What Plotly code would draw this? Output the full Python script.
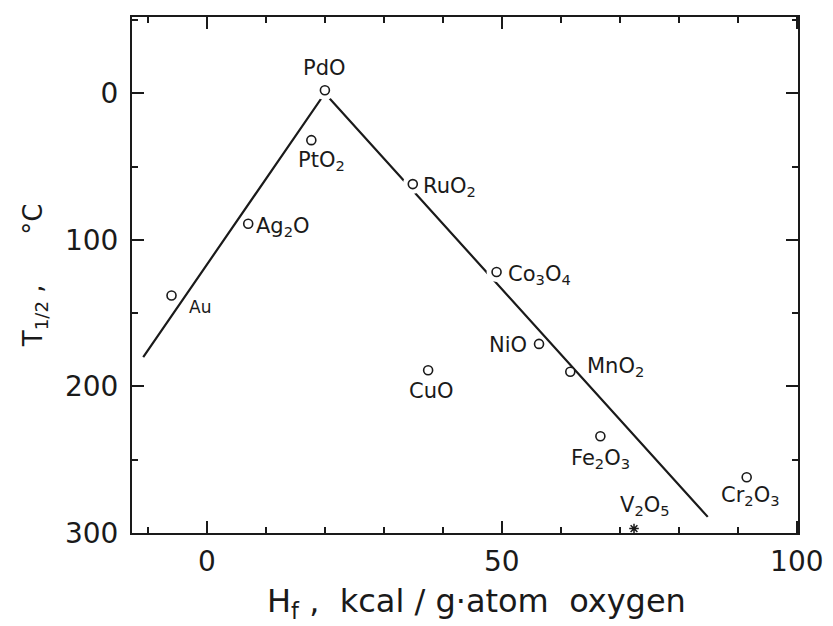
import plotly.graph_objects as go

# ---- data ----
oxides = ["PdO", "PtO2", "Ag2O", "Au", "RuO2", "Co3O4", "NiO", "MnO2", "CuO", "Fe2O3", "Cr2O3"]
hf = [20.0, 17.7, 7.0, -6.0, 34.9, 49.1, 56.3, 61.6, 37.5, 66.7, 91.5]
t_half = [-2, 32, 89, 138, 62, 122, 171, 190, 189, 234, 262]

v2o5_hf = [72.4]
v2o5_t = [297]

trend_hf = [-10.8, 20.0, 84.9]
trend_t = [180, 0, 289]

on_line = ["PdO", "RuO2", "Co3O4"]

label_text = {
    "PdO": "PdO", "PtO2": "PtO<sub>2</sub>", "Ag2O": "Ag<sub>2</sub>O", "Au": "Au",
    "RuO2": "RuO<sub>2</sub>", "Co3O4": "Co<sub>3</sub>O<sub>4</sub>", "NiO": "NiO",
    "MnO2": "MnO<sub>2</sub>", "CuO": "CuO", "Fe2O3": "Fe<sub>2</sub>O<sub>3</sub>",
    "Cr2O3": "Cr<sub>2</sub>O<sub>3</sub>",
}
x_ticks = [0, 50, 100]
y_ticks = [0, 100, 200, 300]

# ---- styling (pixel offsets of labels relative to their point) ----
label_style = {
    "PdO": dict(xanchor="center", yanchor="middle", xshift=0, yshift=22),
    "PtO2": dict(xanchor="left", yanchor="middle", xshift=-15, yshift=-21),
    "Ag2O": dict(xanchor="left", yanchor="middle", xshift=6, yshift=-3),
    "Au": dict(xanchor="left", yanchor="middle", xshift=15, yshift=-11, size=17),
    "RuO2": dict(xanchor="left", yanchor="middle", xshift=8, yshift=-3),
    "Co3O4": dict(xanchor="left", yanchor="middle", xshift=9, yshift=-3),
    "NiO": dict(xanchor="right", yanchor="middle", xshift=-10, yshift=-1),
    "MnO2": dict(xanchor="left", yanchor="middle", xshift=15, yshift=5),
    "CuO": dict(xanchor="center", yanchor="middle", xshift=3, yshift=-21),
    "Fe2O3": dict(xanchor="center", yanchor="middle", xshift=0, yshift=-23),
    "Cr2O3": dict(xanchor="center", yanchor="middle", xshift=4, yshift=-19),
}

FONT = "DejaVu Sans"
INK = "#1a1a1a"

fig = go.Figure()

fig.add_trace(go.Scatter(x=trend_hf, y=trend_t, mode="lines",
                         line=dict(color=INK, width=2.2), hoverinfo="skip",
                         showlegend=False, cliponaxis=False))

gx = [h for h, n in zip(hf, oxides) if n in on_line]
gy = [t for t, n in zip(t_half, oxides) if n in on_line]
fig.add_trace(go.Scatter(x=gx, y=gy, mode="markers",
                         marker=dict(size=20, color="white", line=dict(width=0)),
                         hoverinfo="skip", showlegend=False))

fig.add_trace(go.Scatter(x=hf, y=t_half, mode="markers", text=oxides,
                         marker=dict(symbol="circle", size=9, color="white",
                                     line=dict(color=INK, width=1.6)),
                         showlegend=False, cliponaxis=False))

fig.add_trace(go.Scatter(x=v2o5_hf, y=v2o5_t, mode="markers",
                         marker=dict(symbol="asterisk-open", size=8, color=INK,
                                     line=dict(color=INK, width=1.5)),
                         showlegend=False, cliponaxis=False))

for n, h, t in zip(oxides, hf, t_half):
    st = dict(label_style[n])
    size = st.pop("size", 21)
    fig.add_annotation(x=h, y=t, text=label_text[n], showarrow=False,
                       font=dict(family=FONT, size=size, color=INK), **st)

fig.add_annotation(x=v2o5_hf[0], y=v2o5_t[0], text="V<sub>2</sub>O<sub>5</sub>",
                   showarrow=False, xanchor="center", yanchor="middle",
                   xshift=11, yshift=23, font=dict(family=FONT, size=21, color=INK))

# axis titles
fig.add_annotation(xref="paper", yref="paper", x=0.517, y=-0.135,
                   text="H<sub>f</sub> ,  kcal / g·atom  oxygen", showarrow=False,
                   xanchor="center", yanchor="middle",
                   font=dict(family=FONT, size=32, color=INK))
fig.add_annotation(xref="paper", yref="paper", x=-0.147, y=0.498,
                   text="T<sub>1/2</sub> ,      °C", showarrow=False, textangle=-90,
                   xanchor="center", yanchor="middle",
                   font=dict(family=FONT, size=26, color=INK))

axis_common = dict(showgrid=False, zeroline=False, showline=True, linecolor=INK,
                   linewidth=2, mirror="ticks", ticks="inside", tickcolor=INK,
                   tickwidth=1.6, ticklen=12,
                   tickfont=dict(family=FONT, size=28, color=INK))

fig.update_xaxes(range=[-12.7, 100.2], tickvals=x_ticks,
                 minor=dict(dtick=10, ticks="inside", ticklen=6, tickcolor=INK, tickwidth=1.6),
                 ticklabelstandoff=2, **axis_common)
fig.update_yaxes(range=[300, -52], tickvals=y_ticks,
                 minor=dict(dtick=50, ticks="inside", ticklen=6, tickcolor=INK, tickwidth=1.6),
                 ticklabelstandoff=6, **axis_common)

# the page adds an 8px body margin, so the margins are reduced by 8px at left/top
fig.update_layout(width=833, height=626, plot_bgcolor="white", paper_bgcolor="white",
                  margin=dict(l=124, r=43, t=7, b=101), showlegend=False)

fig.write_html("out.html")
